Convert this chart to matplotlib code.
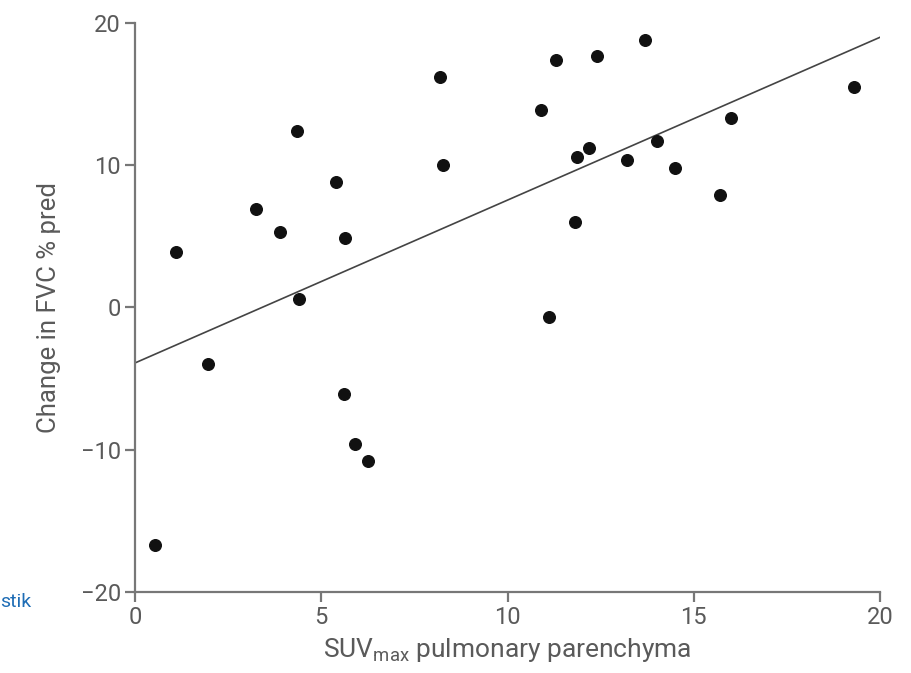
import matplotlib
matplotlib.use('Agg')
import matplotlib.pyplot as plt

plt.rcParams['font.family'] = ['Roboto', 'DejaVu Sans']
plt.rcParams['mathtext.fontset'] = 'custom'
plt.rcParams['mathtext.rm'] = 'Roboto'

# values
suv_max = [0.55, 1.1, 1.95, 3.25, 3.9, 4.35, 4.4, 5.4, 5.6, 5.65, 5.9, 6.25,
           8.2, 8.27, 10.9, 11.1, 11.3, 11.8, 11.87, 12.2, 12.4, 13.2, 13.7,
           14.0, 14.5, 15.7, 16.0, 19.3]
fvc_change = [-16.7, 3.9, -4.0, 6.9, 5.3, 12.4, 0.6, 8.85, -6.1, 4.9, -9.6, -10.8,
              16.2, 10.0, 13.9, -0.7, 17.4, 6.0, 10.6, 11.2, 17.7, 10.4, 18.8,
              11.7, 9.8, 7.9, 13.35, 15.5]
fit_intercept = -3.9
fit_slope = 1.145
x_ticks = [0, 5, 10, 15, 20]
y_ticks = [-20, -10, 0, 10, 20]

gray = '#5a5a5a'

fig = plt.figure(figsize=(9.12, 6.73), dpi=100)
ax = fig.add_axes([0.148, 0.1204, 0.817, 0.8454])

ax.scatter(suv_max, fvc_change, s=70, color='#111111', zorder=3)
fit_x = [0, 20]
fit_y = [fit_intercept + fit_slope * v for v in fit_x]
ax.plot(fit_x, fit_y, color='#444444', linewidth=1.2, zorder=2)

ax.set_xlim(0, 20)
ax.set_ylim(-20, 20)
ax.set_xticks(x_ticks)
ax.set_yticks(y_ticks)
ax.set_yticklabels([str(t).replace('-', '\u2212') for t in y_ticks])

for side in ['top', 'right']:
    ax.spines[side].set_visible(False)
for side in ['left', 'bottom']:
    ax.spines[side].set_color('#777777')
    ax.spines[side].set_linewidth(1.6)

ax.tick_params(axis='both', colors='#777777', width=1.6, length=7,
               labelsize=17, labelcolor=gray, pad=3)

ax.set_xlabel(r'SUV$_{\mathrm{max}}$ pulmonary parenchyma', fontsize=19,
              color=gray, labelpad=5)
ax.set_ylabel('Change in FVC % pred', fontsize=18.5, color=gray, labelpad=14)

fig.text(0.0, 0.105, 'stik', fontsize=14, color='#1f6db5', ha='left', va='center')

fig.savefig('out.png', dpi=100)
